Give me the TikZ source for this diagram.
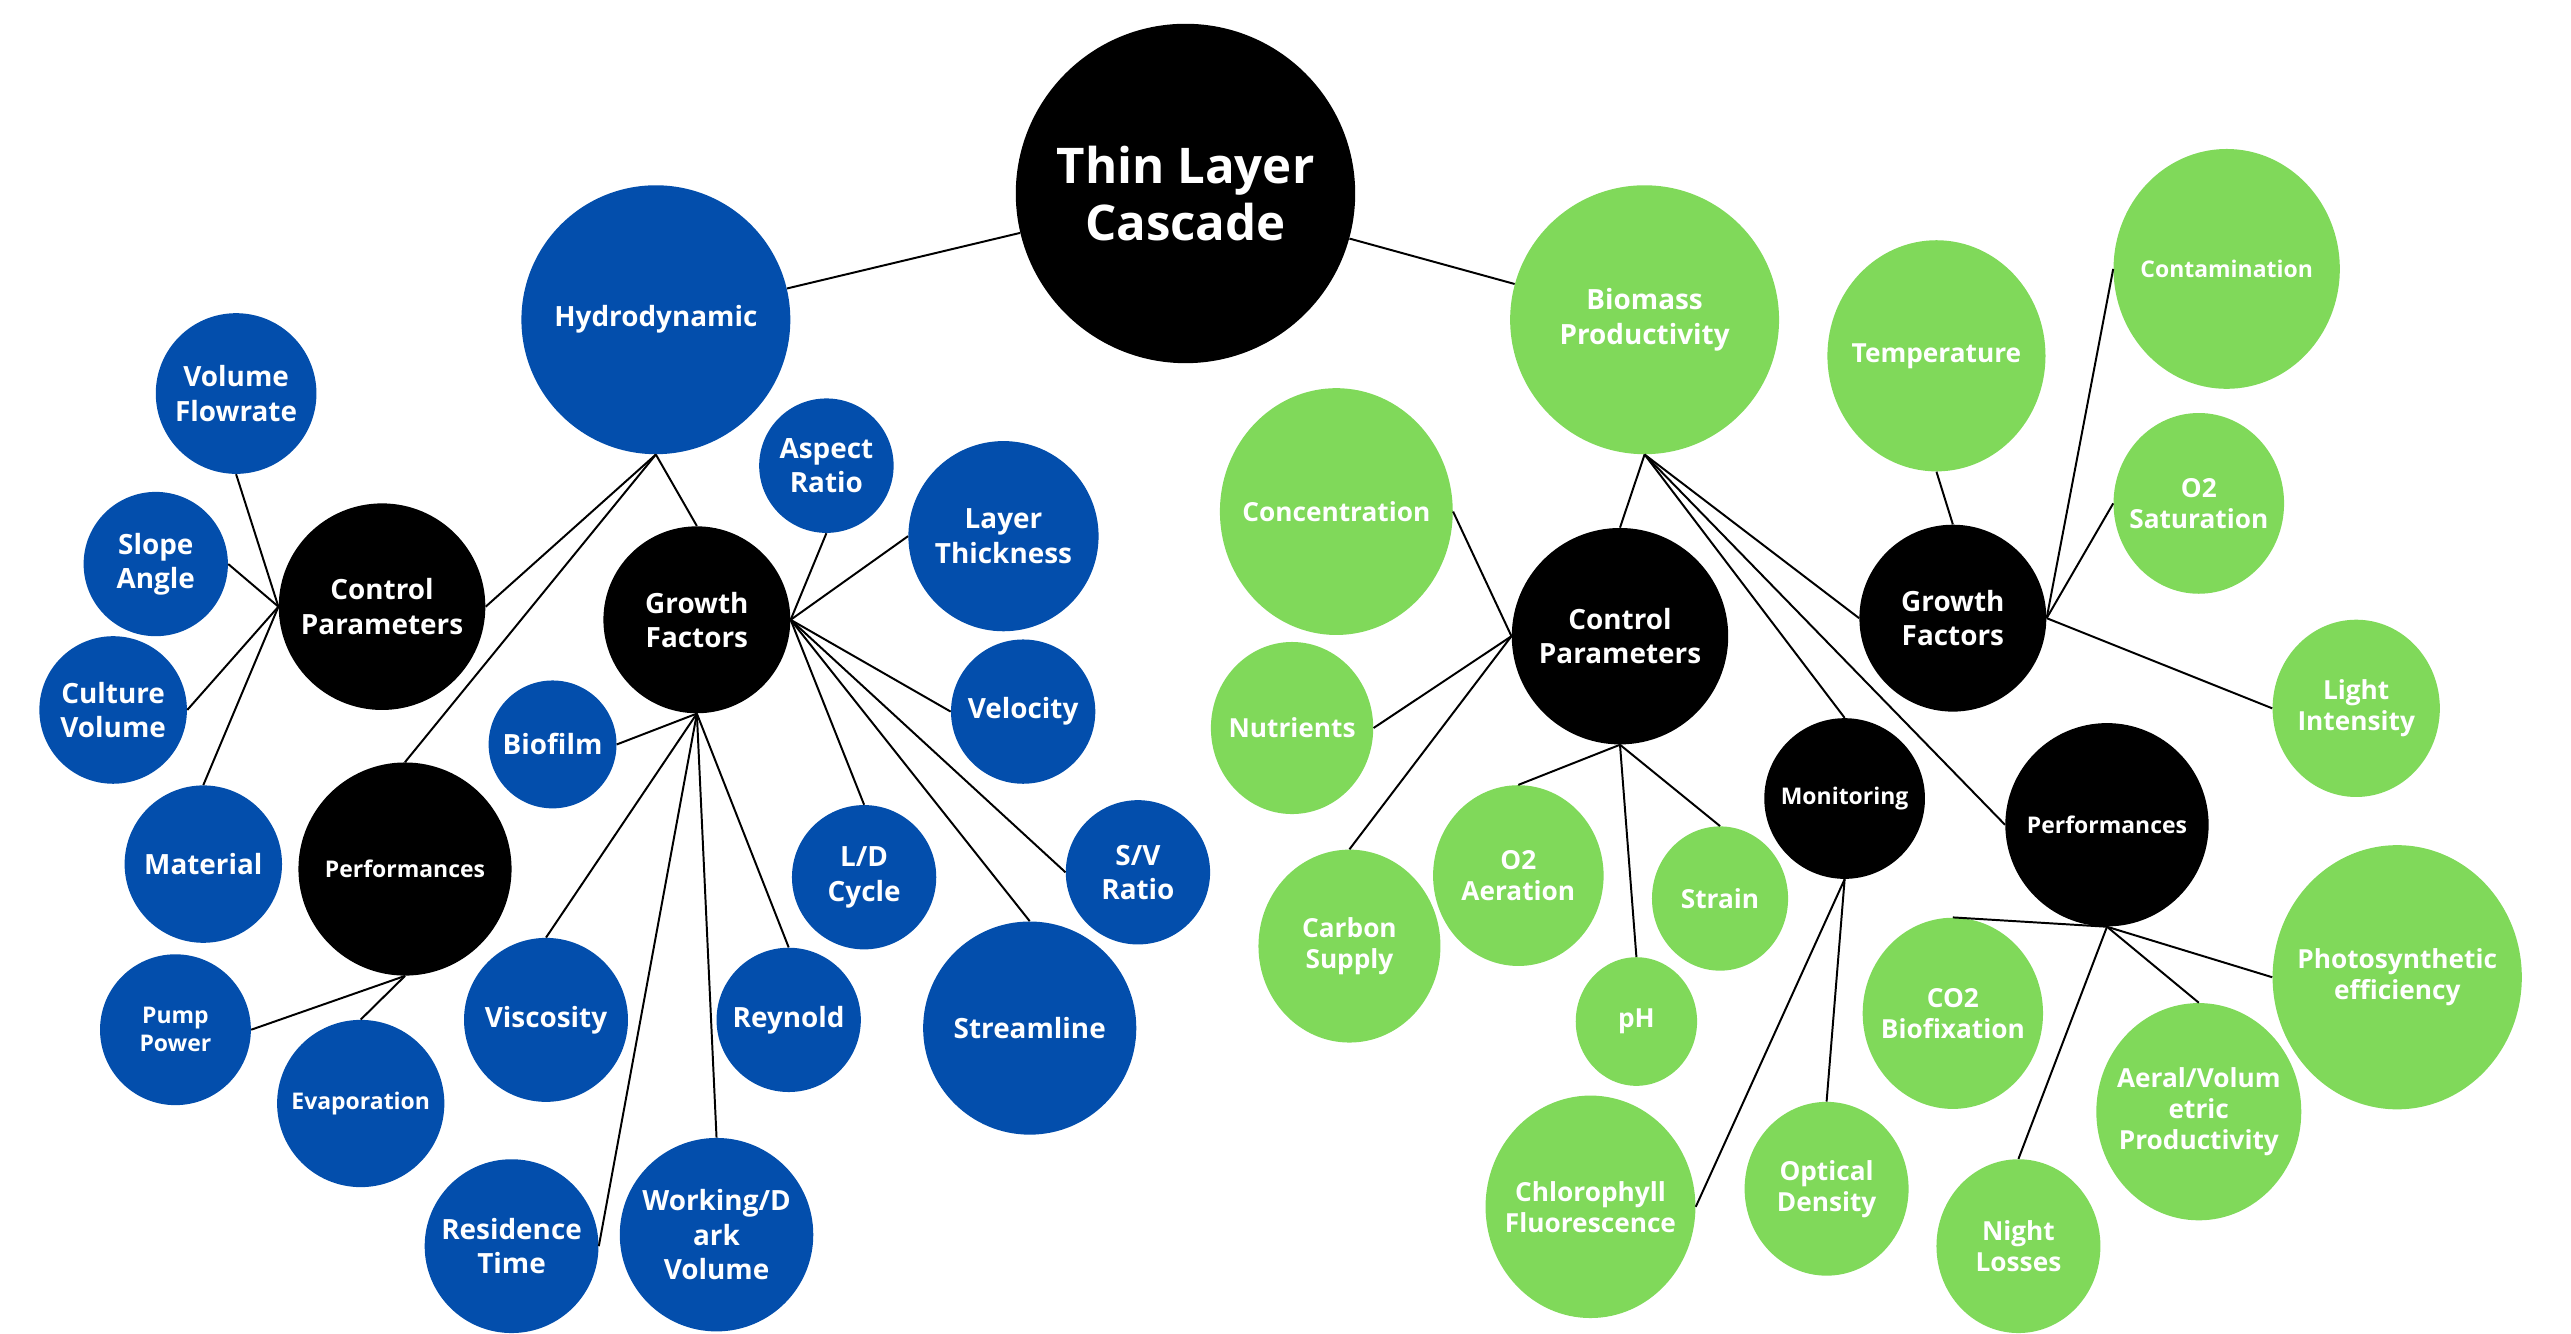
\documentclass[tikz,border=0pt]{standalone}
\usepackage{fontspec}
\setmainfont{Open Sans}
\usepackage{tikz}
\usetikzlibrary{shapes.geometric}
\definecolor{hydblue}{HTML}{034EAC}
\definecolor{biogreen}{HTML}{80D95A}

\begin{document}
\begin{tikzpicture}[x=1pt,y=-1pt,
	bub/.style={circle,inner sep=0pt,align=center,text=white,font=\fontsize{17}{21}\selectfont\bfseries},
	hyd/.style={bub,fill=hydblue},
	bio/.style={bub,ellipse,fill=biogreen,font=\fontsize{16}{19}\selectfont\bfseries,
		inner xsep=-45pt,inner ysep=-28pt,minimum width=#1pt,minimum height=1.06*#1pt},
	hub/.style={bub,fill=black},
	sm/.style={font=\fontsize{14}{17}\selectfont\bfseries},
	link/.style={line width=1.2pt}]
\useasboundingbox (0,0) rectangle (1568,813);
% root
\node[hub,minimum size=207pt,font=\fontsize{30}{35}\selectfont\bfseries] (tlc) at (723,118) {Thin Layer\\Cascade};
% hydrodynamic side
\node[hyd,minimum size=164pt] (hyd) at (400,195) {Hydrodynamic};
\node[hub,minimum size=126pt] (cpl) at (233,370) {Control\\Parameters};
\node[hub,minimum size=114pt] (gfl) at (425,378) {Growth\\Factors};
\node[hub,sm,minimum size=130pt] (pfl) at (247,530) {Performances};
\node[hyd,minimum size=98pt] (vfr) at (144,240) {Volume\\Flowrate};
\node[hyd,minimum size=88pt] (slp) at (95,344) {Slope\\Angle};
\node[hyd,minimum size=90pt] (cvol) at (69,433) {Culture\\Volume};
\node[hyd,minimum size=96pt] (mat) at (124,527) {Material};
\node[hyd,sm,minimum size=92pt] (pmp) at (107,628) {Pump\\Power};
\node[hyd,sm,minimum size=102pt] (evp) at (220,673) {Evaporation};
\node[hyd,minimum size=82pt] (asp) at (504,284) {Aspect\\Ratio};
\node[hyd,minimum size=116pt] (lth) at (612,327) {Layer\\Thickness};
\node[hyd,minimum size=78pt] (bfm) at (337,454) {Biofilm};
\node[hyd,minimum size=88pt] (vel) at (624,434) {Velocity};
\node[hyd,minimum size=88pt] (ldc) at (527,535) {L/D\\Cycle};
\node[hyd,minimum size=88pt] (svr) at (694,532) {S/V\\Ratio};
\node[hyd,minimum size=100pt] (vis) at (333,622) {Viscosity};
\node[hyd,minimum size=88pt] (rey) at (481,622) {Reynold};
\node[hyd,minimum size=130pt] (str) at (628,627) {Streamline};
\node[hyd,minimum size=106pt] (rst) at (312,760) {Residence\\Time};
\node[hyd,minimum size=118pt] (wdv) at (437,753) {Working/D\\ark\\Volume};
% biomass side
\node[bio=164,minimum height=164pt,font=\fontsize{17}{21}\selectfont\bfseries] (bmp) at (1003,195) {Biomass\\Productivity};
\node[hub,minimum size=132pt] (cpr) at (988,388) {Control\\Parameters};
\node[hub,minimum size=114pt] (gfr) at (1191,377) {Growth\\Factors};
\node[hub,sm,minimum size=98pt] (mon) at (1125,487) {Monitoring};
\node[hub,sm,minimum size=124pt] (pfr) at (1285,503) {Performances};
\node[bio=142] (con) at (815,312) {Concentration};
\node[bio=133] (tmp) at (1181,217) {Temperature};
\node[bio=138,sm] (ctm) at (1358,164) {Contamination};
\node[bio=104] (o2s) at (1341,307) {O2\\Saturation};
\node[bio=102] (lit) at (1437,432) {Light\\Intensity};
\node[bio=99] (nut) at (788,444) {Nutrients};
\node[bio=111] (cbs) at (823,577) {Carbon\\Supply};
\node[bio=104] (o2a) at (926,534) {O2\\Aeration};
\node[bio=83] (stn) at (1049,548) {Strain};
\node[bio=74] (ph) at (998,623) {pH};
\node[bio=128] (chl) at (970,736) {Chlorophyll\\Fluorescence};
\node[bio=100] (opd) at (1114,725) {Optical\\Density};
\node[bio=110] (co2) at (1191,618) {CO2\\Biofixation};
\node[bio=125] (avp) at (1341,678) {Aeral/Volum\\etric\\Productivity};
\node[bio=152] (pse) at (1462,596) {Photosynthetic\\efficiency};
\node[bio=100] (ngt) at (1231,760) {Night\\Losses};

\path[link]
(tlc) edge (hyd)
      edge (bmp)
(hyd.south) edge (cpl.east)
            edge (pfl.north)
            edge (gfl.north)
(cpl.west) edge (vfr.south)
           edge (slp.east)
           edge (cvol.east)
           edge (mat.north)
(gfl.east) edge (asp.south)
           edge (lth.west)
           edge (vel.west)
           edge (ldc.north)
           edge (svr.west)
           edge (str.north)
(gfl.south) edge (bfm.east)
            edge (vis.north)
            edge (rst.east)
            edge (wdv.north)
            edge (rey.north)
(pfl.south) edge (pmp.east)
            edge (evp.north)
;
\path[link]
(bmp.south) edge (cpr.north)
            edge (gfr.west)
            edge (mon.north)
            edge (pfr.west)
(cpr.west) edge (con.east)
           edge (nut.east)
           edge (cbs.north)
(cpr.south) edge (o2a.north)
            edge (ph.north)
            edge (stn.north)
(gfr.north) edge (tmp.south)
(gfr.east) edge (ctm.west)
           edge (o2s.west)
           edge (lit.west)
(mon.south) edge (chl.east)
            edge (opd.north)
(pfr.south) edge (co2.north)
            edge (avp.north)
            edge (pse.west)
            edge (ngt.north)
;
\end{tikzpicture}
\end{document}
